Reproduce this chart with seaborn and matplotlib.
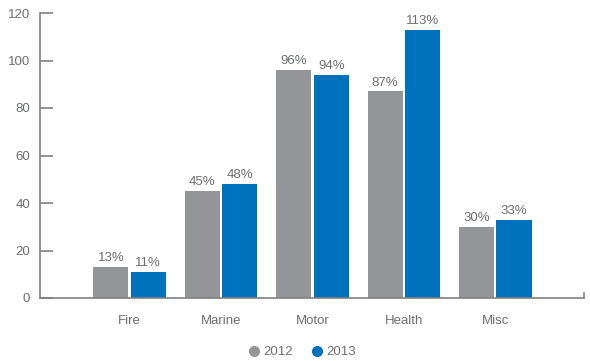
import matplotlib
matplotlib.use("Agg")
import matplotlib.pyplot as plt
import seaborn as sns
import pandas as pd
from matplotlib.lines import Line2D

categories = ["Fire", "Marine", "Motor", "Health", "Misc"]
years = ["2012", "2013"]
values_2012 = [13, 45, 96, 87, 30]
values_2013 = [11, 48, 94, 113, 33]
yticks = [0, 20, 40, 60, 80, 100, 120]

colors = {"2012": "#939598", "2013": "#0071BC"}
text_color = "#6d6e71"
axis_color = "#808080"

sns.set_theme(style="white")
plt.rcParams["font.family"] = ["Liberation Sans", "DejaVu Sans"]

df = pd.DataFrame({
    "category": categories * 2,
    "year": ["2012"] * len(categories) + ["2013"] * len(categories),
    "value": values_2012 + values_2013,
})

fig = plt.figure(figsize=(5.9, 3.61), dpi=100)
ax = fig.add_axes([40 / 590, 63 / 361, 544 / 590, 285 / 361])

sns.barplot(data=df, x="category", y="value", hue="year", palette=colors,
            order=categories, hue_order=years, width=0.82, gap=0.06,
            saturation=1, linewidth=0, ax=ax, legend=False)

for cont, yr in zip(ax.containers, years):
    ax.bar_label(cont, labels=[f"{int(v)}%" for v in cont.datavalues],
                 padding=2, color=text_color, fontsize=9.5)

ax.set_xlim(-0.98, 4.97)
ax.set_ylim(0, 120)
ax.set_yticks(yticks)
ax.set_xlabel("")
ax.set_ylabel("")

ax.spines["top"].set_visible(False)
ax.spines["right"].set_bounds(0, 2)
for s in ["left", "bottom", "right"]:
    ax.spines[s].set_color(axis_color)
    ax.spines[s].set_linewidth(1.2)

ax.tick_params(axis="y", direction="in", length=9, width=1.2, color=axis_color,
               labelcolor=text_color, labelsize=9.5, pad=7, left=True)
ax.tick_params(axis="x", length=0, labelcolor=text_color, labelsize=9.5, pad=12)

handles = [Line2D([], [], marker="o", linestyle="", markersize=7,
                  markerfacecolor=colors[y], markeredgecolor=colors[y], label=y)
           for y in years]
fig.legend(handles=handles, loc="lower center", bbox_to_anchor=(0.51, -0.025),
           ncol=2, frameon=False, fontsize=9.5, labelcolor=text_color,
           handletextpad=0.1, columnspacing=1.2, handlelength=1.2)

fig.savefig("out.png", dpi=100)
